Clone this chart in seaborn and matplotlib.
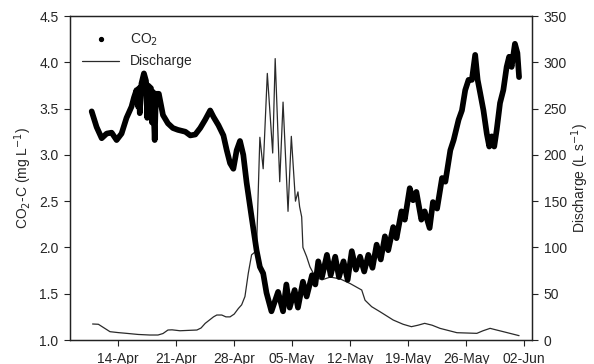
import numpy as np
import pandas as pd
import matplotlib
matplotlib.use("Agg")
import matplotlib.pyplot as plt
from matplotlib.lines import Line2D
import seaborn as sns

# ---- data (time in days after 1 April; 13.0 = 14-Apr 00:00) ----
co2_day = [9.79, 10.39, 11.0, 11.6, 12.2, 12.8, 13.4, 14.0, 14.6, 14.9, 15.2, 15.4, 15.5, 15.6,
           15.8, 16.1, 16.35, 16.5, 16.6, 16.95, 17.07, 17.2, 17.4, 17.55, 17.9, 18.4, 19.0,
           19.6, 20.2, 21.1, 21.7, 22.3, 22.9, 23.5, 24.1, 24.5, 25.1, 25.7, 26.1, 26.5, 26.9,
           27.3, 27.7, 28.1, 28.5, 29.1, 29.7, 30.1, 30.5, 30.9, 31.5, 32.3, 32.9, 33.3, 33.7,
           34.3, 34.7, 35.3, 35.75, 36.4, 36.8, 37.15, 37.6, 38.2, 38.65, 39.2, 39.65, 40.2,
           40.7, 41.2, 41.7, 42.2, 42.7, 43.2, 43.7, 44.2, 44.7, 45.2, 45.6, 46.2, 46.6, 47.2,
           47.6, 48.2, 48.6, 49.0, 49.6, 50.0, 50.6, 51.0, 51.5, 52.1, 52.5, 53.1, 53.5, 54.1,
           54.5, 54.9, 55.3, 55.7, 56.1, 56.4, 56.7, 57.1, 57.5, 57.8, 58.1, 58.4, 58.7, 59.1,
           59.5, 59.9, 60.2, 60.5, 60.9, 61.2, 61.4]
co2_val = [3.47, 3.30, 3.18, 3.23, 3.24, 3.16, 3.23, 3.40, 3.52, 3.62, 3.70, 3.52, 3.72, 3.45,
           3.77, 3.88, 3.80, 3.40, 3.75, 3.72, 3.35, 3.68, 3.16, 3.66, 3.66, 3.43, 3.34,
           3.29, 3.27, 3.25, 3.21, 3.22, 3.29, 3.38, 3.48, 3.41, 3.32, 3.21, 3.05, 2.91, 2.85,
           3.05, 3.15, 3.00, 2.70, 2.33, 1.97, 1.79, 1.72, 1.51, 1.31, 1.52, 1.31, 1.60, 1.35,
           1.54, 1.35, 1.63, 1.47, 1.70, 1.60, 1.85, 1.68, 1.92, 1.70, 1.90, 1.68, 1.85,
           1.65, 1.96, 1.76, 1.90, 1.74, 1.92, 1.78, 2.03, 1.87, 2.12, 1.97, 2.22, 2.10, 2.39,
           2.30, 2.64, 2.51, 2.60, 2.30, 2.39, 2.21, 2.49, 2.42, 2.75, 2.71, 3.05, 3.16, 3.38,
           3.48, 3.70, 3.81, 3.81, 4.08, 3.81, 3.67, 3.48, 3.23, 3.09, 3.20, 3.09, 3.27, 3.56,
           3.70, 3.95, 4.06, 3.95, 4.20, 4.10, 3.84]

q_day = [9.9, 10.6, 11.3, 12.0, 13.0, 14.0, 15.4, 16.8, 17.8, 18.4, 19.0, 19.5, 20.45, 21.7,
         22.5, 23.0, 23.5, 24.5, 24.9, 25.5, 26.0, 26.5, 27.0, 27.5, 27.9, 28.3, 28.7, 29.1,
         29.5, 29.7, 29.87, 30.1, 30.5, 31.0, 31.65, 31.95, 32.5, 32.9, 33.5, 33.9, 34.4,
         34.7, 34.9, 35.15, 35.3, 35.75, 36.15, 36.8, 37.6, 38.6, 39.8, 41.0, 42.4, 42.8,
         43.6, 44.6, 46.2, 47.4, 48.4, 49.2, 50.0, 50.9, 51.85, 53.9, 56.3, 57.05, 57.9,
         58.6, 59.5, 61.4]
q_val = [17.3, 17, 13, 9, 8, 7.2, 6, 5.4, 5.4, 7, 10.8, 11, 10, 10.5,
         10.8, 13, 18, 25, 27, 27, 25, 25, 28, 34, 38, 47, 72, 92,
         95, 100, 150, 219, 185, 288, 202, 304, 171, 257, 139, 220, 150,
         160, 144, 133, 100, 90, 79, 68, 65, 68, 66, 61, 54, 43,
         36, 30.6, 21.6, 17, 14.4, 16, 18, 16, 12.6, 7.9, 7.2, 10, 12.6,
         11, 9, 4.7]

tick_dates = ["2012-04-14", "2012-04-21", "2012-04-28", "2012-05-05",
              "2012-05-12", "2012-05-19", "2012-05-26", "2012-06-02"]
tick_labels = ["14-Apr", "21-Apr", "28-Apr", "05-May", "12-May", "19-May", "26-May", "02-Jun"]

base = pd.Timestamp("2012-04-01")
co2 = pd.DataFrame({"time": base + pd.to_timedelta(co2_day, unit="D"), "co2": co2_val})
dis = pd.DataFrame({"time": base + pd.to_timedelta(q_day, unit="D"), "q": q_val})

sns.set_style("ticks")
plt.rcParams["font.family"] = ["Liberation Sans", "DejaVu Sans"]
plt.rcParams["font.size"] = 10
FS = 10

fig = plt.figure(figsize=(5.94, 3.64), dpi=100)
ax = fig.add_axes([0.1178, 0.0659, 0.7778, 0.8901])
ax2 = ax.twinx()

sns.lineplot(data=dis, x="time", y="q", ax=ax2, color="#2a2a2a", linewidth=0.9, zorder=1)
sns.lineplot(data=co2, x="time", y="co2", ax=ax, color="black", linewidth=4.1,
             solid_capstyle="round", solid_joinstyle="round", zorder=3)
ax.set_zorder(ax2.get_zorder() + 1)
ax.patch.set_visible(False)

ax.set_ylim(1.0, 4.5)
ax.set_yticks(np.arange(1.0, 4.51, 0.5))
ax.set_yticklabels([f"{v:.1f}" for v in np.arange(1.0, 4.51, 0.5)])
ax2.set_ylim(0, 350)
ax2.set_yticks(np.arange(0, 351, 50))

ax.set_xlim(base + pd.Timedelta(days=7.17), base + pd.Timedelta(days=62.96))
ax.set_xticks(pd.to_datetime(tick_dates))
ax.set_xticklabels(tick_labels)

ax.set_xlabel("")
ax.set_ylabel("CO$_2$-C (mg L$^{-1}$)", fontsize=FS, labelpad=4)
ax2.set_ylabel("Discharge (L s$^{-1}$)", fontsize=FS, labelpad=2)

for a in (ax, ax2):
    a.tick_params(axis="both", length=4.3, width=0.8, labelsize=FS, color="#222222", pad=4.0)
    for s in a.spines.values():
        s.set_linewidth(0.9)
        s.set_color("#222222")

handles = [Line2D([], [], marker="o", markersize=2.8, linestyle="none", color="black"),
           Line2D([], [], color="#2a2a2a", linewidth=0.9)]
leg = ax.legend(handles, ["CO$_2$", "Discharge"], loc="upper left", frameon=False,
                fontsize=FS, handlelength=2.6, handletextpad=0.8, labelspacing=0.45,
                bbox_to_anchor=(0.0, 0.99))

fig.savefig("out.png", dpi=100)
